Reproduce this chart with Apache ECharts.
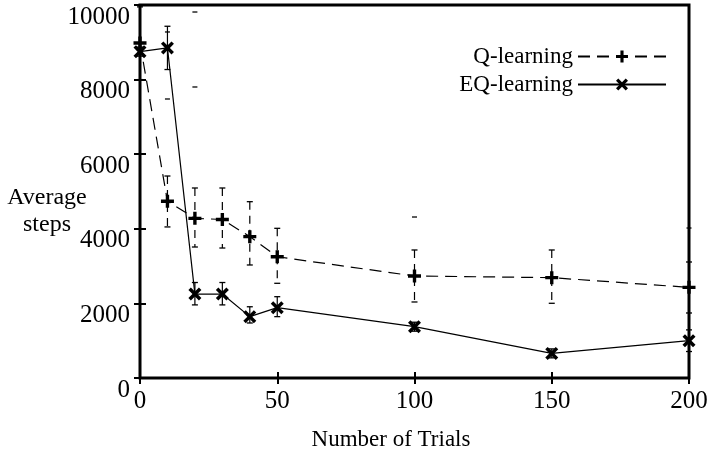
<!DOCTYPE html>
<html><head><meta charset="utf-8">
<script src="https://cdn.jsdelivr.net/npm/echarts@6/dist/echarts.min.js"></script>
<style>html,body{margin:0;padding:0;background:#fff}#c{width:713px;height:457px}</style>
</head><body><div id="c"></div><script>
const trials = [0,10,20,30,40,50,100,150,200];
const qMean = [8980,4740,4280,4250,3790,3250,2735,2690,2430];
const qHigh = [9950,5415,5094,5094,4727,4013,3432,3432,3110];
const qLow  = [8000,4050,3512,3485,3030,2539,2038,2003,1743];
const eqMean = [8750,8850,2250,2250,1645,1885,1375,660,1000];
const eqHigh = [8870,9430,2560,2560,1910,2180,1495,780,1290];
const eqLow  = [8630,8270,1960,1960,1475,1645,1255,540,710];
const extraX = [10,10,20,20,100,200];
const extraY = [9277,7480,9812,7802,4316,4021];
const seriesNames = ['Q-learning','EQ-learning'];
const axisTitleY = 'Average\nsteps';
const axisTitleX = 'Number of Trials';

const FONT = "'Liberation Serif','Times New Roman',serif";
const plusPath = 'path://M3.7,0H6.3V3.7H10V6.3H6.3V10H3.7V6.3H0V3.7H3.7Z';
const d = 1.9;
const crossPath = 'path://M0,'+d+'L'+d+',0L5,'+(5-d)+'L'+(10-d)+',0L10,'+d+'L'+(5+d)+',5L10,'+(10-d)+'L'+(10-d)+',10L5,'+(5+d)+'L'+d+',10L0,'+(10-d)+'L'+(5-d)+',5Z';

function errRender(dashed){
  return function(params, api){
    const x = api.value(0), lo = api.value(1), hi = api.value(2);
    const pHi = api.coord([x, hi]), pLo = api.coord([x, lo]);
    const w = 3;
    const cap = {stroke:'#000', lineWidth:1.3};
    return {type:'group', children:[
      {type:'line', shape:{x1:pHi[0],y1:pHi[1],x2:pLo[0],y2:pLo[1]},
       style:{stroke:'#000', lineWidth:1.2, lineDash: dashed ? [8,6] : null}},
      {type:'line', shape:{x1:pHi[0]-w,y1:pHi[1],x2:pHi[0]+w,y2:pHi[1]}, style:cap},
      {type:'line', shape:{x1:pLo[0]-w,y1:pLo[1],x2:pLo[0]+w,y2:pLo[1]}, style:cap}
    ]};
  };
}

const chart = echarts.init(document.getElementById('c'));
const tickStyle = {show:true, inside:true, length:6, lineStyle:{color:'#000', width:2}};
const legendBase = {orient:'vertical', align:'right', right:46, itemWidth:88, itemHeight:15,
  padding:0, textStyle:{fontFamily:FONT, fontSize:23, color:'#000'}};
chart.setOption({
  animation:false,
  backgroundColor:'#fff',
  grid:{left:140, right:24, top:5, bottom:79, show:true, borderColor:'#000', borderWidth:3, backgroundColor:'transparent'},
  legend:[
    Object.assign({data:[seriesNames[0]], top:45}, legendBase),
    Object.assign({data:[seriesNames[1]], top:73}, legendBase)
  ],
  xAxis:[
    {type:'value', position:'bottom', min:0, max:200, interval:50,
     axisLine:{show:false}, splitLine:{show:false}, axisTick:tickStyle,
     axisLabel:{fontFamily:FONT, fontSize:25, color:'#000', margin:11, formatter:v=>String(v)}},
    {type:'value', position:'top', min:0, max:200, interval:50,
     axisLine:{show:false}, splitLine:{show:false}, axisTick:tickStyle, axisLabel:{show:false}}
  ],
  yAxis:[
    {type:'value', position:'left', min:0, max:10000, interval:2000,
     axisLine:{show:false}, splitLine:{show:false}, axisTick:tickStyle,
     axisLabel:{fontFamily:FONT, fontSize:25, color:'#000', margin:10, verticalAlign:'top', lineHeight:24,
       formatter:v=>String(v)}},
    {type:'value', position:'right', min:0, max:10000, interval:2000,
     axisLine:{show:false}, splitLine:{show:false}, axisTick:tickStyle, axisLabel:{show:false}}
  ],
  graphic:[
    {type:'text', x:47, y:211, style:{text:axisTitleY, fontFamily:FONT, fontSize:24, fill:'#000',
      align:'center', verticalAlign:'middle', lineHeight:27}},
    {type:'text', x:391, y:440, style:{text:axisTitleX, fontFamily:FONT, fontSize:23, fill:'#000',
      align:'center', verticalAlign:'middle'}}
  ],
  series:[
    {name:seriesNames[0], type:'line', data:trials.map((x,i)=>[x,qMean[i]]),
     symbol:plusPath, symbolSize:13, z:4,
     lineStyle:{color:'#000', width:1.2, type:[12,7]}, itemStyle:{color:'#000'}},
    {name:seriesNames[1], type:'line', data:trials.map((x,i)=>[x,eqMean[i]]),
     symbol:crossPath, symbolSize:13, z:4,
     lineStyle:{color:'#000', width:1.2}, itemStyle:{color:'#000'}},
    {type:'custom', name:'qErr', renderItem:errRender(true), z:3,
     data:trials.map((x,i)=>[x,qLow[i],qHigh[i]])},
    {type:'custom', name:'eqErr', renderItem:errRender(false), z:3,
     data:trials.map((x,i)=>[x,eqLow[i],eqHigh[i]])},
    {type:'scatter', name:'marks', data:extraX.map((x,i)=>[x,extraY[i]]),
     symbol:'rect', symbolSize:[5,1.6], itemStyle:{color:'#000'}, z:3}
  ]
});
</script></body></html>
